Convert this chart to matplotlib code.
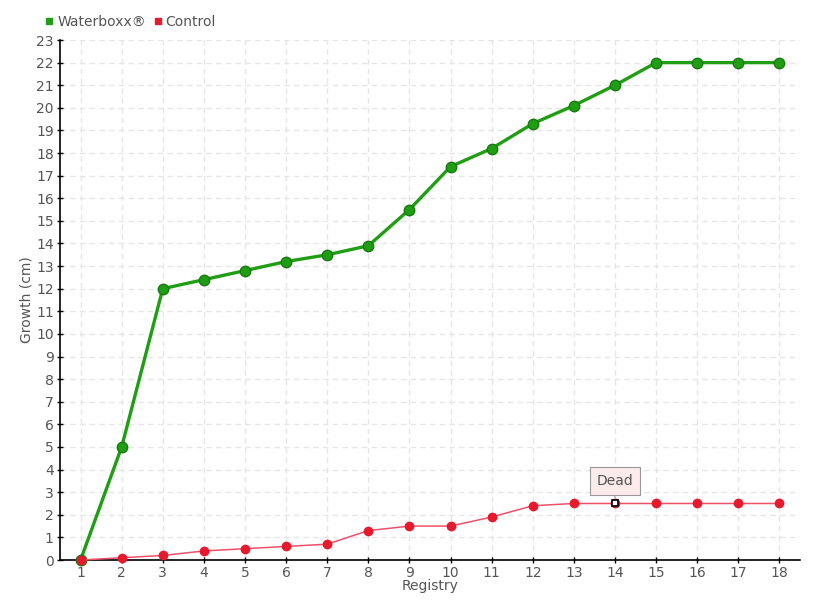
import matplotlib
matplotlib.use("Agg")
import matplotlib.pyplot as plt
from matplotlib.lines import Line2D

registry = list(range(1, 19))
waterboxx = [0, 5, 12, 12.4, 12.8, 13.2, 13.5, 13.9, 15.5, 17.4, 18.2, 19.3, 20.1, 21, 22, 22, 22, 22]
control = [0, 0.1, 0.2, 0.4, 0.5, 0.6, 0.7, 1.3, 1.5, 1.5, 1.9, 2.4, 2.5, 2.5, 2.5, 2.5, 2.5, 2.5]
y_ticks = list(range(0, 24))

plt.rcParams['font.family'] = ['Liberation Sans Narrow', 'DejaVu Sans']
fig = plt.figure(figsize=(8.2, 6), dpi=100)
ax = fig.add_axes([60/820, 40/600, 740/820, 520/600])

txt = '#555555'
green = '#1f9e14'
red = '#e8192c'
fs = 10
ax.set_xlim(0.5, 18.5)
ax.set_ylim(0, 23)
ax.set_xticks(registry)
ax.set_xticklabels([str(r) for r in registry], fontsize=fs, color=txt)
ax.set_yticks(y_ticks)
ax.set_yticklabels([str(v) for v in y_ticks], fontsize=fs, color=txt)
ax.grid(True, color='#e6e6e6', linestyle=(0, (4, 3)), linewidth=1)
ax.set_axisbelow(True)
for s in ['top', 'right']:
    ax.spines[s].set_visible(False)
for s in ['left', 'bottom']:
    ax.spines[s].set_color('black')
    ax.spines[s].set_linewidth(1.2)
ax.tick_params(axis='both', direction='inout', length=5, width=1, colors='black', labelcolor=txt, pad=2)

ax.plot(registry, waterboxx, color=green, linewidth=2.4, marker='o', markersize=7.5,
        markerfacecolor=green, markeredgecolor='#177a0f', markeredgewidth=1.0, zorder=3, clip_on=False)
ax.plot(registry, control, color='#f0506a', linewidth=1.1, marker='o', markersize=6,
        markerfacecolor=red, markeredgecolor=red, zorder=4, clip_on=False)
ax.plot([registry[13]], [control[13]], marker='s', markersize=4, markerfacecolor='white',
        markeredgecolor='black', markeredgewidth=1.2, linestyle='none', zorder=5)

ax.annotate('Dead', xy=(registry[13], control[13]), xytext=(0, 16), textcoords='offset points',
            ha='center', va='center', fontsize=fs, color=txt,
            bbox=dict(boxstyle='square,pad=0.5', fc='#fdeaea', ec='#999999', lw=0.8),
            arrowprops=dict(arrowstyle='-', color='#999999', lw=0.8, shrinkA=0, shrinkB=4), zorder=6)

ax.set_ylabel('Growth (cm)', fontsize=fs, color=txt, labelpad=2)
ax.set_xlabel('Registry', fontsize=fs, color=txt, labelpad=-1)

handles = [Line2D([], [], marker='s', linestyle='none', color=green, markersize=5),
           Line2D([], [], marker='s', linestyle='none', color=red, markersize=5)]
fig.legend(handles, ['Waterboxx®', 'Control'], loc='center left', bbox_to_anchor=(46/820, 1 - 22/600),
           ncol=2, frameon=False, fontsize=fs, handlelength=0.5, handletextpad=0.3,
           columnspacing=0.6, labelcolor=txt, borderpad=0, borderaxespad=0)

fig.savefig('out.png', dpi=100)
